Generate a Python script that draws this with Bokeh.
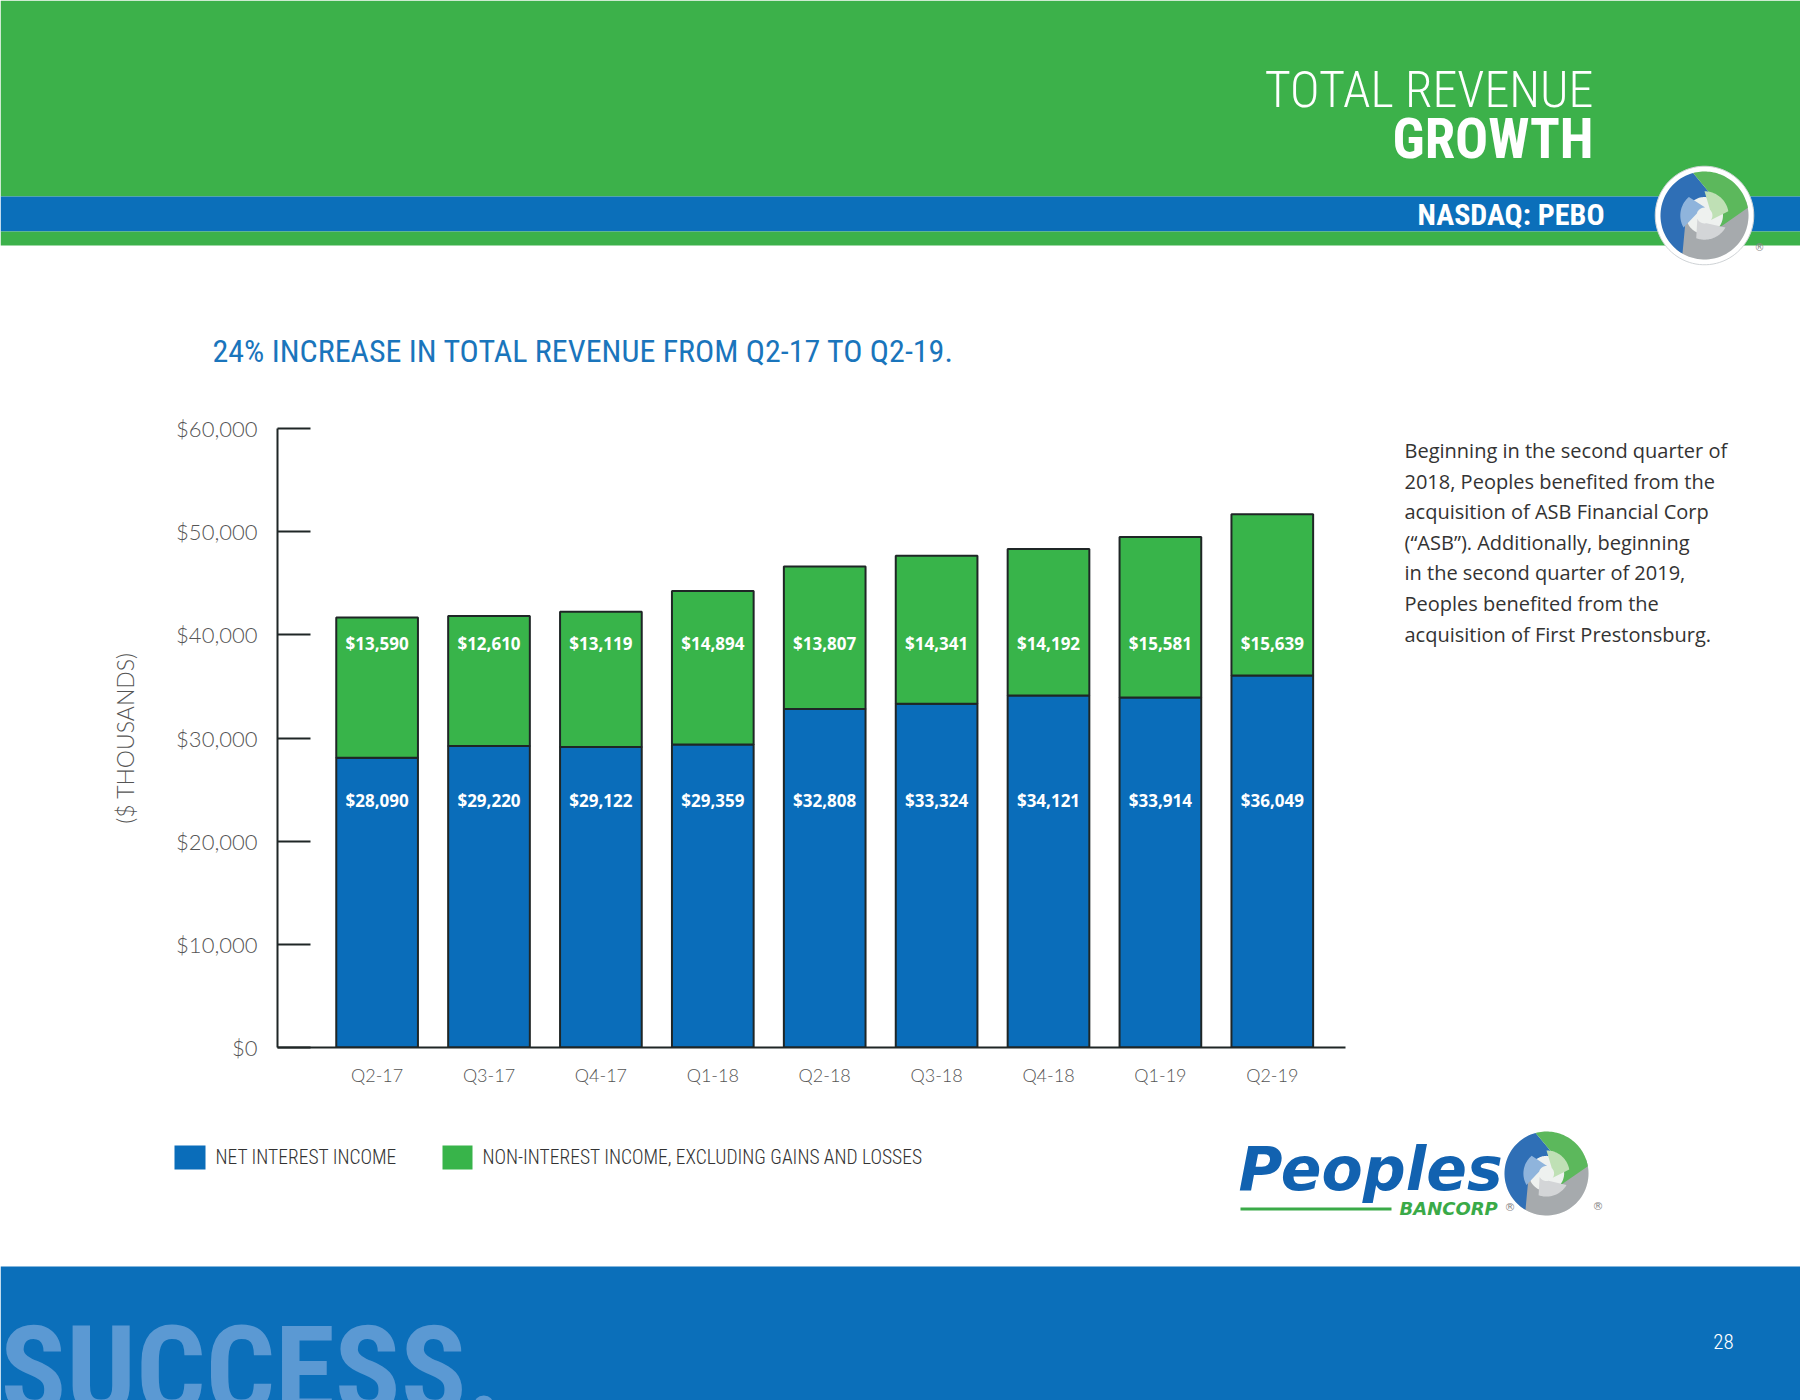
import numpy as np
from bokeh.plotting import figure
from bokeh.layouts import column, row
from bokeh.models import (ColumnDataSource, Range1d, FixedTicker, NumeralTickFormatter, Label)
from bokeh.core.properties import value
from bokeh.embed import file_html
from bokeh.resources import INLINE

# ---------------- data ----------------
quarters = ["Q2-17", "Q3-17", "Q4-17", "Q1-18", "Q2-18", "Q3-18", "Q4-18", "Q1-19", "Q2-19"]
net_interest_income = [28090, 29220, 29122, 29359, 32808, 33324, 34121, 33914, 36049]
non_interest_income = [13590, 12610, 13119, 14894, 13807, 14341, 14192, 15581, 15639]
y_ticks = [0, 10000, 20000, 30000, 40000, 50000, 60000]
series_names = ["NET INTEREST INCOME", "NON-INTEREST INCOME, EXCLUDING GAINS AND LOSSES"]
note_lines = [
    "Beginning in the second quarter of",
    "2018, Peoples benefited from the",
    "acquisition of ASB Financial Corp",
    "(\u201cASB\u201d). Additionally, beginning",
    "in the second quarter of 2019,",
    "Peoples benefited from the",
    "acquisition of First Prestonsburg.",
]

# ---------------- style ----------------
BLUE = "#0a6dba"
GREEN = "#38b44a"
HEAD_GREEN = "#3cb14a"
BAND_BLUE = "#0b6fba"
OUTLINE = "#1f2626"
COND = "Roboto Condensed"
COND_LIGHT = "Roboto Condensed Light, Roboto Condensed"
LIGHT = "Lato Light, Lato"
GRAY = "#555555"

W, H = 1800, 1400
TOP_H = 400          # header + subtitle strip
MID_H = 700          # chart row
BOT_H = H - TOP_H - MID_H
CHART_W = 1380
FL, FR, FT, FB = 277, 1345, 428, 1047   # chart frame, page pixels
X_SPACING = 111.9
X0 = -(376.6 - FL) / X_SPACING
X1 = X0 + (FR - FL) / X_SPACING


def deco_fig(w, h, x0, x1, y_top, y_bottom, bt=0, bb=0):
    f = figure(width=w, height=h, x_range=Range1d(x0, x1), y_range=Range1d(y_bottom, y_top),
               min_border=0, min_border_top=bt, min_border_bottom=bb,
               output_backend="svg", toolbar_location=None,
               x_axis_type=None, y_axis_type=None)
    f.outline_line_color = None
    f.grid.visible = False
    f.background_fill_color = "white"
    f.border_fill_color = "white"
    return f


def label(f, text, x, y, size, color, font=COND_LIGHT, style="normal", align="left"):
    f.add_layout(Label(x=x, y=y, text=text, text_font=font, text_font_size=f"{size}px",
                       text_font_style=style, text_color=color, text_align=align,
                       text_baseline="middle"))


def band(f, top, bottom, color, left=0, right=W):
    f.quad(left=left, right=right, top=top, bottom=bottom, fill_color=color, line_color=None)


def circle_pts(cx, cy, r, n=90):
    t = np.linspace(0, 2 * np.pi, n, endpoint=False)
    return cx + r * np.cos(t), cy - r * np.sin(t)


def segment(cx, cy, r_out, r_in, a0, a1, twist, n=40):
    ta = np.radians(np.linspace(a0, a1, n))
    tb = np.radians(np.linspace(a1 + twist, a0 + twist, n))
    xs = np.concatenate([cx + r_out * np.cos(ta), cx + r_in * np.cos(tb)])
    ys = np.concatenate([cy - r_out * np.sin(ta), cy - r_in * np.sin(tb)])
    return xs, ys


def logo(f, cx, cy, r, halo=False):
    if halo:
        xs, ys = circle_pts(cx, cy, r * 1.12)
        f.patch(xs, ys, fill_color="white", line_color="#cfd3d6", line_width=1)
    xs, ys = circle_pts(cx, cy, r)
    f.patch(xs, ys, fill_color="#eef1ef", line_color=None)
    for (ro, ri, a0, a1, tw), col in [((r, r * 0.42, 230, 380, -60), "#a6aaad"),
                                      ((r, r * 0.42, 105, 240, -60), "#2f6fb6"),
                                      ((r, r * 0.42, 10, 105, -60), "#5cb85c"),
                                      ((r * 0.55, r * 0.18, 130, 210, -45), "#8fb4dc"),
                                      ((r * 0.55, r * 0.18, 10, 90, -45), "#bfe0b5"),
                                      ((r * 0.55, r * 0.18, 250, 330, -45), "#d3d5d7")]:
        xs, ys = segment(cx, cy, ro, ri, a0, a1, tw)
        f.patch(xs, ys, fill_color=col, line_color=None)


# ---------------- header ----------------
top = deco_fig(W, TOP_H, 0, W, 0, TOP_H)
band(top, 0, 196, HEAD_GREEN)
band(top, 196, 231, BAND_BLUE)
band(top, 231, 245, HEAD_GREEN)
label(top, "TOTAL REVENUE", 1593, 89, 50, "white", align="right")
label(top, "GROWTH", 1593, 138, 55, "white", font=COND, style="bold", align="right")
label(top, "NASDAQ: PEBO", 1604, 214, 30, "white", font=COND, style="bold", align="right")
logo(top, 1704, 215, 44, halo=True)
label(top, "\u00ae", 1754, 247, 10, "#888888", font="DejaVu Sans")
label(top, "24% INCREASE IN TOTAL REVENUE FROM Q2-17 TO Q2-19.", 212, 350, 32, "#1a75bc",
      font=COND)

# ---------------- chart ----------------
p = figure(width=CHART_W, height=MID_H, output_backend="svg", toolbar_location=None,
           x_range=Range1d(X0, X1), y_range=Range1d(0, 60000),
           min_border_left=FL, min_border_right=CHART_W - FR,
           min_border_top=FT - TOP_H, min_border_bottom=TOP_H + MID_H - FB)
p.outline_line_color = None
p.grid.visible = False
p.background_fill_color = "white"
p.border_fill_color = "white"

idx = list(range(len(quarters)))
src = ColumnDataSource(dict(
    x=idx,
    net=net_interest_income,
    non=non_interest_income,
    net_label=[f"${v:,}" for v in net_interest_income],
    non_label=[f"${v:,}" for v in non_interest_income],
))

p.vbar_stack(["net", "non"], x="x", width=0.73, source=src,
             fill_color=[BLUE, GREEN], line_color=OUTLINE, line_width=2)

for col, yv in (("non_label", 39150), ("net_label", 23950)):
    p.text(x="x", y=yv, text=col, source=src, text_align="center",
           text_baseline="middle", text_color="white", text_font=value("Open Sans"),
           text_font_style="bold", text_font_size="17px")

ya = p.yaxis[0]
ya.ticker = FixedTicker(ticks=y_ticks)
ya.formatter = NumeralTickFormatter(format="$0,0")
ya.major_tick_in = 33
ya.major_tick_out = 0
ya.minor_tick_line_color = None
ya.major_tick_line_width = 2
ya.major_tick_line_color = OUTLINE
ya.axis_line_width = 2
ya.axis_line_color = OUTLINE
ya.major_label_standoff = 20
ya.major_label_text_font = LIGHT
ya.major_label_text_font_size = "22px"
ya.major_label_text_color = GRAY
ya.axis_label = "($ THOUSANDS)"
ya.axis_label_text_font = LIGHT
ya.axis_label_text_font_style = "normal"
ya.axis_label_text_font_size = "23px"
ya.axis_label_text_color = GRAY
ya.axis_label_standoff = 34

xa = p.xaxis[0]
xa.ticker = FixedTicker(ticks=idx)
xa.major_label_overrides = {i: q for i, q in zip(idx, quarters)}
xa.major_tick_line_color = None
xa.minor_tick_line_color = None
xa.axis_line_width = 2
xa.axis_line_color = OUTLINE
xa.major_label_standoff = 10
xa.major_label_text_font = LIGHT
xa.major_label_text_font_size = "18px"
xa.major_label_text_color = GRAY

# ---------------- side note (frame aligned with the chart frame) ----------------
side = deco_fig(W - CHART_W, MID_H, CHART_W, W, FT, FB, bt=FT - TOP_H, bb=TOP_H + MID_H - FB)
for i, line in enumerate(note_lines):
    label(side, line, 1404, 450 + i * 30.6, 20, "#333333", font="Open Sans")

# ---------------- bottom: legend, wordmark, footer ----------------
bot = deco_fig(W, BOT_H, 0, W, TOP_H + MID_H, H)
band(bot, 1266, H, BAND_BLUE)
label(bot, "SUCCESS.", 0, 1371, 122, "#5b99d3", font=COND, style="bold")
label(bot, "28", 1723, 1341, 21, "white", align="center")

# legend
for (x0, x1, tx), name, col in zip([(174, 205, 215), (442, 472, 482)], series_names, [BLUE, GREEN]):
    band(bot, 1145, 1169, col, left=x0, right=x1)
    label(bot, name, tx, 1157, 19.5, "#333333")

# Peoples Bancorp wordmark
label(bot, "Peoples", 1238, 1168, 60, "#1262b0", font="DejaVu Sans", style="bold italic")
band(bot, 1207, 1210, "#3aaa48", left=1240, right=1391)
label(bot, "BANCORP", 1399, 1208, 18, "#3aaa48", font="DejaVu Sans", style="bold italic")
logo(bot, 1546, 1173, 42)
label(bot, "\u00ae", 1592, 1206, 11, "#888888", font="DejaVu Sans")
label(bot, "\u00ae", 1504, 1207, 11, "#888888", font="DejaVu Sans")

page = column(top, row(p, side), bot)
open("out.html", "w").write(file_html(page, INLINE))
